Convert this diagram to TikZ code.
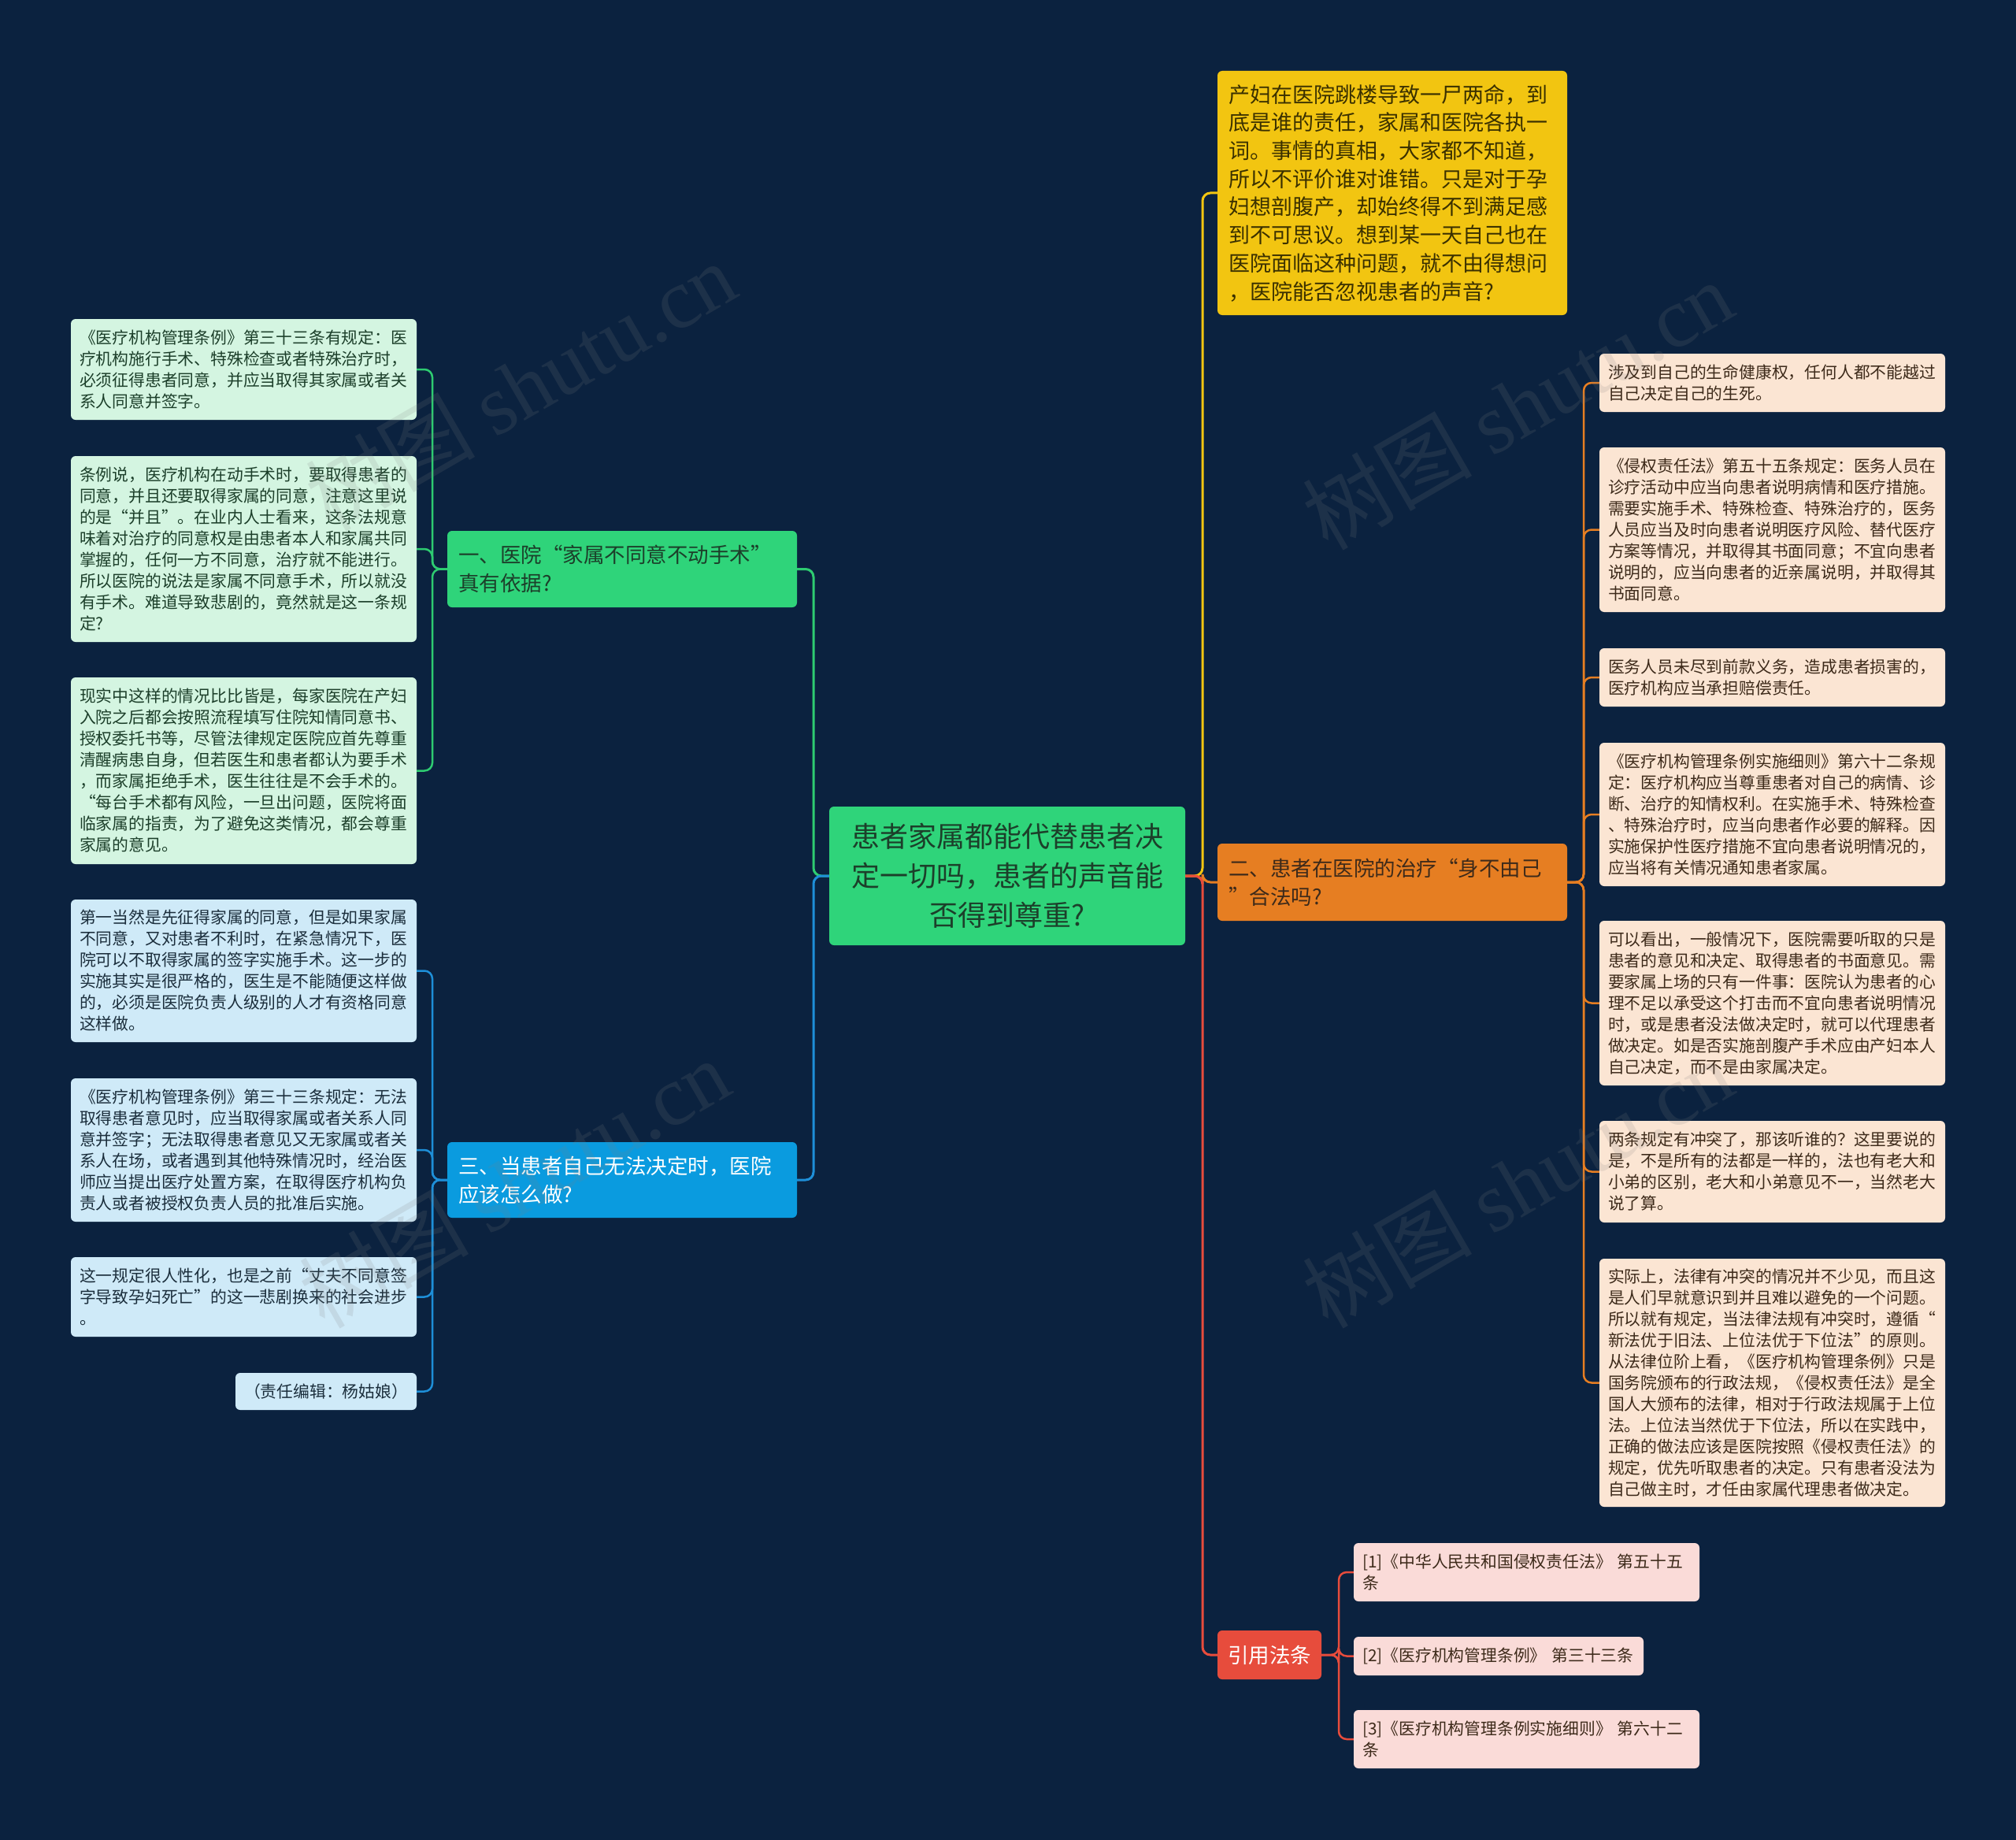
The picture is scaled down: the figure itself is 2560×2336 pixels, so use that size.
\documentclass[tikz,border=0pt]{standalone}
\usepackage{fontspec}
\setmainfont{Noto Sans CJK SC}
\newfontfamily\wmlatin{Liberation Serif}
\usetikzlibrary{calc}
\definecolor{bgc}{HTML}{0B223F}
\definecolor{cGreen}{HTML}{2FD47A}
\definecolor{lGreen}{HTML}{2ECC71}
\definecolor{cBlue}{HTML}{0A9BDF}
\definecolor{lBlue}{HTML}{1E8FD8}
\definecolor{cYellow}{HTML}{F2C511}
\definecolor{cOrange}{HTML}{E67E22}
\definecolor{cRed}{HTML}{E74C3C}
\definecolor{leafG}{HTML}{D4F5E1}
\definecolor{leafB}{HTML}{CFEAF8}
\definecolor{leafO}{HTML}{FBE5D3}
\definecolor{leafR}{HTML}{FADBD8}
\definecolor{txtG}{HTML}{1C3F2A}
\definecolor{txtB}{HTML}{1B2E3C}
\definecolor{txtO}{HTML}{3D2A1A}
\definecolor{txtY}{HTML}{3A3000}
\newcommand\leaffont{\fontsize{20.8}{27}\selectfont}
\newcommand\brfont{\fontsize{26.5}{36}\selectfont}
\tikzset{
  box/.style={rounded corners=6, inner xsep=11, inner ysep=0, align=left, anchor=center},
  leafg/.style={box, fill=leafG, text=txtG, minimum width=439, text width=417, font=\leaffont},
  leafb/.style={box, fill=leafB, text=txtB, minimum width=439, text width=417, font=\leaffont},
  leafo/.style={box, fill=leafO, text=txtO, minimum width=439, text width=417, font=\leaffont},
  leafr/.style={box, fill=leafR, text=txtO, font=\leaffont},
  branchbox/.style={box, inner xsep=14, minimum width=444, text width=416, font=\brfont},
  conn/.style={line width=3, rounded corners=10},
  lconn/.style={line width=2.5, rounded corners=10},
  wm/.style={rotate=30, text=gray, opacity=0.16, font=\fontsize{108}{108}\selectfont, anchor=center}
}
\begin{document}
\begin{tikzpicture}[x=1pt,y=-1pt]
\fill[bgc] (0,0) rectangle (2560,2336);
\useasboundingbox (0,0) rectangle (2560,2336);

% spines
\coordinate (lsp) at (1033,0);
\coordinate (rsp) at (1527,0);
\coordinate (llsp) at (549,0);
\coordinate (osp) at (2011,0);
\coordinate (csp) at (1700,0);

% central
\node[box, align=center, fill=cGreen, text=txtG, minimum width=452, minimum height=176, text width=430,
  font=\fontsize{36}{50}\selectfont] (c) at (1279,1112)
  {患者家属都能代替患者决\\定一切吗，患者的声音能\\否得到尊重?};

% branches
\node[branchbox, fill=cGreen, text=txtG, minimum height=97] (b1) at (790,722.5)
  {一、医院“家属不同意不动手术”\\真有依据?};
\node[branchbox, fill=cBlue, text=white, minimum height=96] (b3) at (790,1498)
  {三、当患者自己无法决定时，医院\\应该怎么做?};
\node[box, inner xsep=14, fill=cYellow, text=txtY, minimum width=444, minimum height=310, text width=416,
  font=\fontsize{27}{35.7}\selectfont] (ty) at (1768,245)
  {产妇在医院跳楼导致一尸两命，到\\底是谁的责任，家属和医院各执一\\词。事情的真相，大家都不知道，\\所以不评价谁对谁错。只是对于孕\\妇想剖腹产，却始终得不到满足感\\到不可思议。想到某一天自己也在\\医院面临这种问题，就不由得想问\\，医院能否忽视患者的声音?};
\node[branchbox, fill=cOrange, text=txtO, minimum height=98] (b2) at (1768,1120)
  {二、患者在医院的治疗“身不由己\\”合法吗?};
\node[box, align=center, inner xsep=8, fill=cRed, text=white, minimum width=132, minimum height=62,
  font=\fontsize{26.5}{32}\selectfont] (rf) at (1612,2101) {引用法条};

% left green leaves
\node[leafg, minimum height=128] (L1) at (309.5,469)
  {《医疗机构管理条例》第三十三条有规定：医\\疗机构施行手术、特殊检查或者特殊治疗时，\\必须征得患者同意，并应当取得其家属或者关\\系人同意并签字。};
\node[leafg, minimum height=236] (L2) at (309.5,697)
  {条例说，医疗机构在动手术时，要取得患者的\\同意，并且还要取得家属的同意，注意这里说\\的是“并且”。在业内人士看来，这条法规意\\味着对治疗的同意权是由患者本人和家属共同\\掌握的，任何一方不同意，治疗就不能进行。\\所以医院的说法是家属不同意手术，所以就没\\有手术。难道导致悲剧的，竟然就是这一条规\\定?};
\node[leafg, minimum height=237] (L3) at (309.5,978.5)
  {现实中这样的情况比比皆是，每家医院在产妇\\入院之后都会按照流程填写住院知情同意书、\\授权委托书等，尽管法律规定医院应首先尊重\\清醒病患自身，但若医生和患者都认为要手术\\，而家属拒绝手术，医生往往是不会手术的。\\“每台手术都有风险，一旦出问题，医院将面\\临家属的指责，为了避免这类情况，都会尊重\\家属的意见。};

% left blue leaves
\node[leafb, minimum height=181] (L4) at (309.5,1232.5)
  {第一当然是先征得家属的同意，但是如果家属\\不同意，又对患者不利时，在紧急情况下，医\\院可以不取得家属的签字实施手术。这一步的\\实施其实是很严格的，医生是不能随便这样做\\的，必须是医院负责人级别的人才有资格同意\\这样做。};
\node[leafb, minimum height=182] (L5) at (309.5,1460)
  {《医疗机构管理条例》第三十三条规定：无法\\取得患者意见时，应当取得家属或者关系人同\\意并签字；无法取得患者意见又无家属或者关\\系人在场，或者遇到其他特殊情况时，经治医\\师应当提出医疗处置方案，在取得医疗机构负\\责人或者被授权负责人员的批准后实施。};
\node[leafb, minimum height=101] (L6) at (309.5,1646.5)
  {这一规定很人性化，也是之前“丈夫不同意签\\字导致孕妇死亡”的这一悲剧换来的社会进步\\。};
\node[box, align=center, fill=leafB, text=txtB, font=\leaffont, minimum width=228, minimum height=47] (L7) at (414,1766.5)
  {（责任编辑：杨姑娘）};

% right orange leaves
\node[leafo, minimum height=74] (R1) at (2250.5,486)
  {涉及到自己的生命健康权，任何人都不能越过\\自己决定自己的生死。};
\node[leafo, minimum height=209] (R2) at (2250.5,672.5)
  {《侵权责任法》第五十五条规定：医务人员在\\诊疗活动中应当向患者说明病情和医疗措施。\\需要实施手术、特殊检查、特殊治疗的，医务\\人员应当及时向患者说明医疗风险、替代医疗\\方案等情况，并取得其书面同意；不宜向患者\\说明的，应当向患者的近亲属说明，并取得其\\书面同意。};
\node[leafo, minimum height=74] (R3) at (2250.5,860)
  {医务人员未尽到前款义务，造成患者损害的，\\医疗机构应当承担赔偿责任。};
\node[leafo, minimum height=182] (R4) at (2250.5,1034)
  {《医疗机构管理条例实施细则》第六十二条规\\定：医疗机构应当尊重患者对自己的病情、诊\\断、治疗的知情权利。在实施手术、特殊检查\\、特殊治疗时，应当向患者作必要的解释。因\\实施保护性医疗措施不宜向患者说明情况的，\\应当将有关情况通知患者家属。};
\node[leafo, minimum height=209] (R5) at (2250.5,1273.5)
  {可以看出，一般情况下，医院需要听取的只是\\患者的意见和决定、取得患者的书面意见。需\\要家属上场的只有一件事：医院认为患者的心\\理不足以承受这个打击而不宜向患者说明情况\\时，或是患者没法做决定时，就可以代理患者\\做决定。如是否实施剖腹产手术应由产妇本人\\自己决定，而不是由家属决定。};
\node[leafo, minimum height=129] (R6) at (2250.5,1487.5)
  {两条规定有冲突了，那该听谁的？这里要说的\\是，不是所有的法都是一样的，法也有老大和\\小弟的区别，老大和小弟意见不一，当然老大\\说了算。};
\node[leafo, minimum height=315] (R7) at (2250.5,1755.5)
  {实际上，法律有冲突的情况并不少见，而且这\\是人们早就意识到并且难以避免的一个问题。\\所以就有规定，当法律法规有冲突时，遵循“\\新法优于旧法、上位法优于下位法”的原则。\\从法律位阶上看，《医疗机构管理条例》只是\\国务院颁布的行政法规，《侵权责任法》是全\\国人大颁布的法律，相对于行政法规属于上位\\法。上位法当然优于下位法，所以在实践中，\\正确的做法应该是医院按照《侵权责任法》的\\规定，优先听取患者的决定。只有患者没法为\\自己做主时，才任由家属代理患者做决定。};

% citations
\node[leafr, minimum width=439, text width=417, minimum height=74] (c1) at (1938.5,1996)
  {[1]《中华人民共和国侵权责任法》 第五十五\\条};
\node[leafr, minimum width=368, text width=346, minimum height=49] (c2) at (1903,2102.5)
  {[2]《医疗机构管理条例》 第三十三条};
\node[leafr, minimum width=439, text width=417, minimum height=74] (c3) at (1938.5,2208)
  {[3]《医疗机构管理条例实施细则》 第六十二\\条};

% main connectors
\draw[conn, lGreen] (c.west) -- (lsp |- c.west) -- (lsp |- b1.east) -- (b1.east);
\draw[conn, lBlue] (c.west) -- (lsp |- c.west) -- (lsp |- b3.east) -- (b3.east);
\draw[conn, cYellow] (c.east) -- (rsp |- c.east) -- (rsp |- ty.west) -- (ty.west);
\draw[conn, cOrange] (c.east) -- (rsp |- c.east) -- (rsp |- b2.west) -- (b2.west);
\draw[conn, cRed] (c.east) -- (rsp |- c.east) -- (rsp |- rf.west) -- (rf.west);

% leaf connectors
\foreach \n in {L1,L2,L3}
  \draw[lconn, lGreen] (b1.west) -- (llsp |- b1.west) -- (llsp |- \n.east) -- (\n.east);
\foreach \n in {L4,L5,L6,L7}
  \draw[lconn, lBlue] (b3.west) -- (llsp |- b3.west) -- (llsp |- \n.east) -- (\n.east);
\foreach \n in {R1,R2,R3,R4,R5,R6,R7}
  \draw[lconn, cOrange] (b2.east) -- (osp |- b2.east) -- (osp |- \n.west) -- (\n.west);
\foreach \n in {c1,c2,c3}
  \draw[lconn, cRed] (rf.east) -- (csp |- rf.east) -- (csp |- \n.west) -- (\n.west);

% watermarks
\node[wm] (w1) at (661,490) {树图 {\wmlatin shutu.cn}};
\node[wm] (w2) at (1927,514) {树图 {\wmlatin shutu.cn}};
\node[wm] (w3) at (653,1502) {树图 {\wmlatin shutu.cn}};
\node[wm] (w4) at (1927,1502) {树图 {\wmlatin shutu.cn}};
\end{tikzpicture}
\end{document}
